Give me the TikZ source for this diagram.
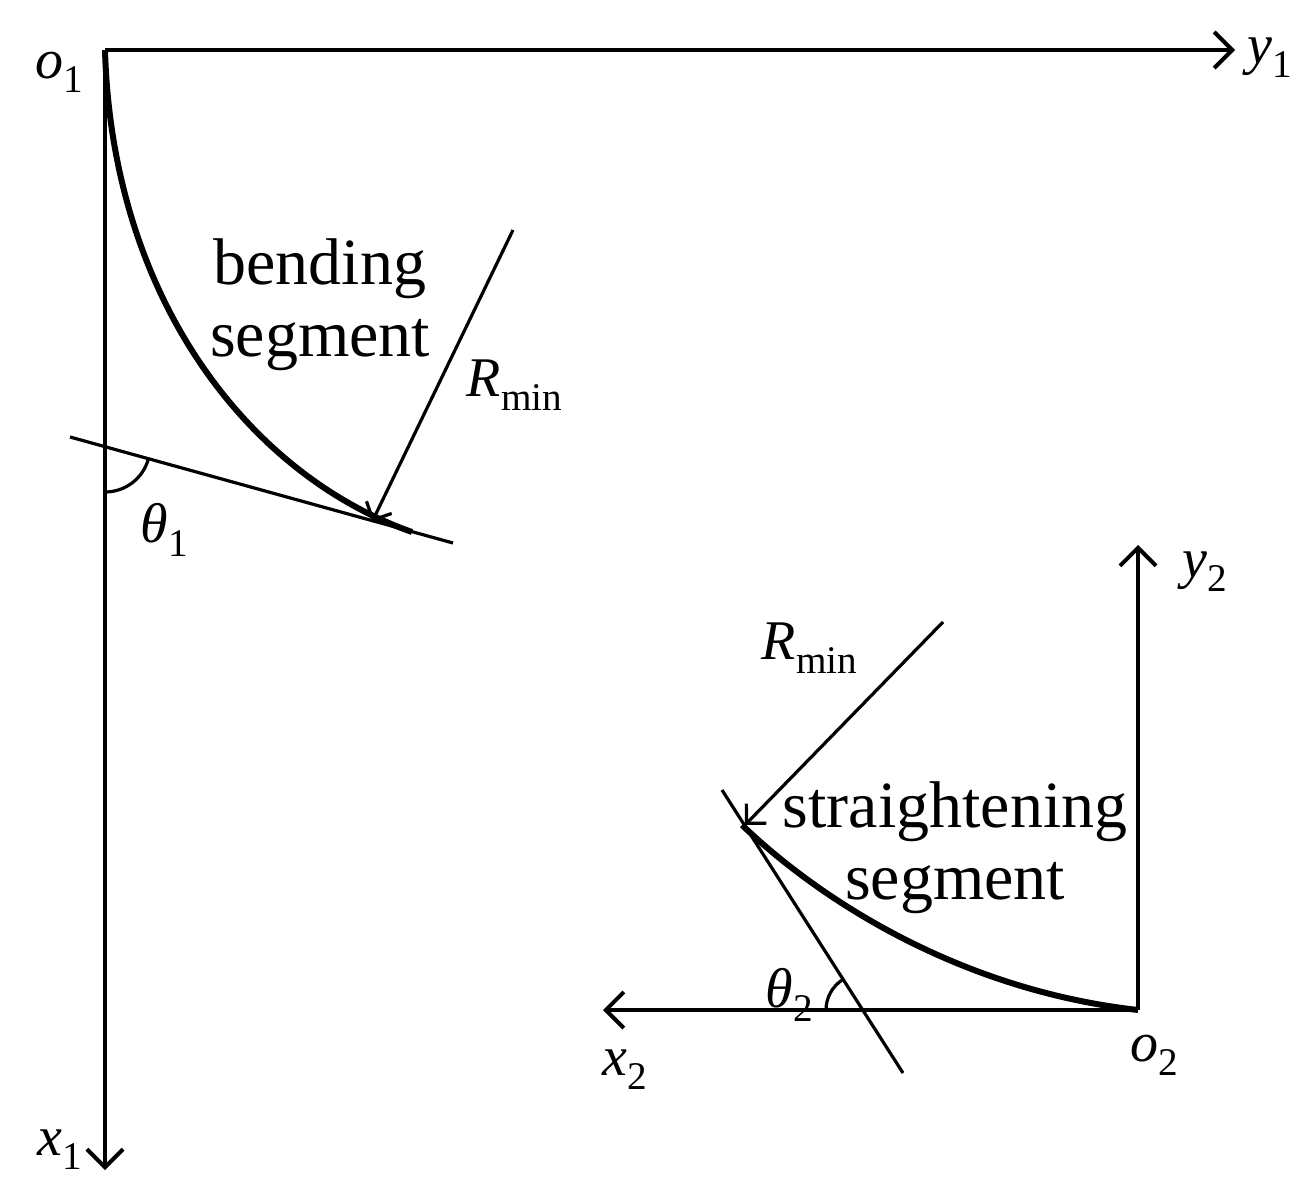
\documentclass[tikz,border=0pt]{standalone}
\usepackage{fontspec}
\setmainfont{Liberation Serif}
\usepackage{unicode-math}
\setmathfont{Latin Modern Math}
\setmathfont[range={it/{latin,Latin,greek}}]{Liberation Serif Italic}
\setmathfont[range={up/{latin,Latin,num}}]{Liberation Serif}
\usetikzlibrary{arrows.meta}
\begin{document}
\begin{tikzpicture}[x=0.5pt,y=-0.5pt,
 ax/.style={line width=2pt,-{Straight Barb[length=9pt,width=18pt,line width=2pt]}},
 ln/.style={line width=1.6pt},
 cv/.style={line width=3pt},
 lb/.style={font=\fontsize{28}{32}\selectfont,inner sep=0pt},
 tx/.style={font=\fontsize{33}{36}\selectfont,inner sep=0pt,align=center}]
\useasboundingbox (0,0) rectangle (1311,1198);
\coordinate (o1) at (105,50);
\coordinate (y1e) at (1235,50);
\coordinate (x1e) at (105,1170);
\draw[ax] (o1) -- (y1e);
\draw[ax] (o1) -- (x1e);
\coordinate (p1) at (412,532);
\draw[cv] (o1) .. controls (112,300) and (250,475) .. (p1);
\coordinate (ta) at (70,437);
\coordinate (tb) at (453,543);
\draw[ln] (ta) -- (tb);
\coordinate (r1) at (513,230);
\coordinate (r1e) at (372,522);
\draw[ln,-{Straight Barb[length=7pt,width=14pt,line width=1.6pt]}] (r1) -- (r1e);
\coordinate (c1) at (105,447);
\draw[ln] ([shift={(90:45)}]c1) arc (90:15.5:45);
\node[lb] at (165,530) {$\theta_1$};
\node[tx] at (320,305) {bending\\segment};
\node[lb] at (515,385) {$R_{\mathrm{min}}$};
\node[lb] at (60,72) {$o_1$};
\node[lb] at (1270,58) {$y_1$};
\node[lb] at (60,1150) {$x_1$};
% second
\coordinate (o2) at (1138,1010);
\coordinate (y2e) at (1138,545);
\coordinate (x2e) at (603,1010);
\draw[ax] (o2) -- (y2e);
\draw[ax] (o2) -- (x2e);
\coordinate (p2) at (742,825);
\draw[cv] (o2) .. controls (960,990) and (820,900) .. (p2);
\coordinate (la) at (722,790);
\coordinate (lb2) at (903,1073);
\draw[ln] (la) -- (lb2);
\coordinate (r2) at (943,622);
\coordinate (r2e) at (745,825);
\draw[ln,-{Straight Barb[length=7pt,width=14pt,line width=1.6pt]}] (r2) -- (r2e);
\coordinate (c2) at (862,1010);
\draw[ln] ([shift={(180:36)}]c2) arc (180:237.4:36);
\node[lb] at (790,995) {$\theta_2$};
\node[tx] at (955,848) {straightening\\segment};
\node[lb] at (810,648) {$R_{\mathrm{min}}$};
\node[lb] at (1155,1055) {$o_2$};
\node[lb] at (1205,572) {$y_2$};
\node[lb] at (625,1070) {$x_2$};
\end{tikzpicture}
\end{document}
